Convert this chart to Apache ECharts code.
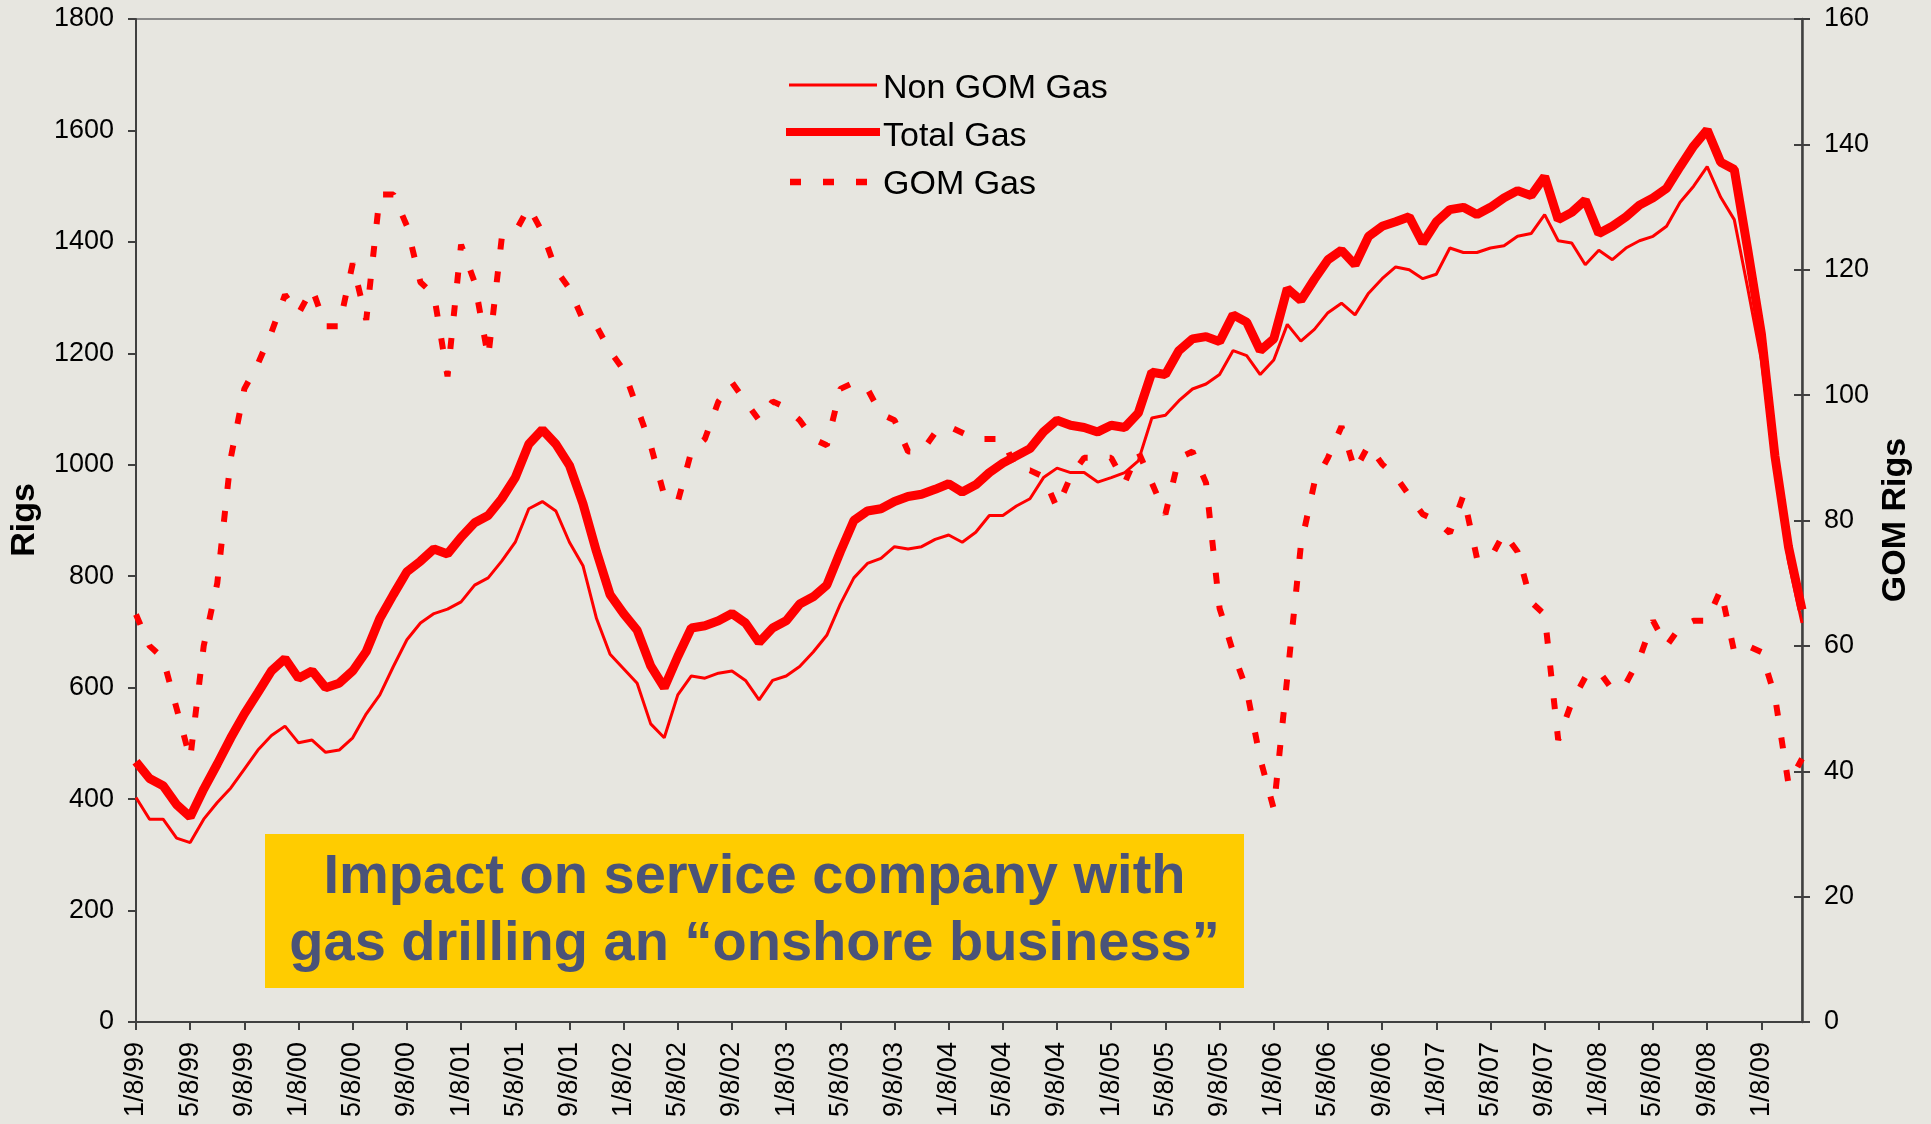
<!DOCTYPE html>
<html>
<head>
<meta charset="utf-8">
<script src="https://cdn.jsdelivr.net/npm/echarts@6/dist/echarts.min.js"></script>
<style>
  html, body { margin: 0; padding: 0; background: #E7E6E0; }
  #chart { width: 1931px; height: 1124px; }
</style>
</head>
<body>
<div id="chart"></div>
<script>
// Monthly samples, 1/8/99 .. 4/8/09
const months = [];
for (let m = 0; m < 124; m++) {
  const yy = String((99 + Math.floor(m / 12)) % 100).padStart(2, '0');
  months.push(((m % 12) + 1) + '/8/' + yy);
}

const nonGomGas = [
  403, 364, 364, 330, 322, 364, 394, 420, 454, 488, 514, 531,
  501, 506, 484, 488, 510, 553, 587, 638, 686, 716, 733, 741,
  754, 784, 797, 827, 861, 921, 934, 917, 861, 819, 724, 660,
  634, 608, 535, 510, 587, 621, 617, 626, 630, 613, 578, 613,
  621, 638, 664, 694, 750, 797, 823, 832, 853, 849, 853, 866,
  874, 861, 879, 909, 909, 926, 939, 977, 994, 986, 986, 969,
  977, 986, 1007, 1084, 1089, 1115, 1136, 1145, 1162, 1205, 1196, 1162,
  1188, 1252, 1222, 1243, 1273, 1290, 1269, 1308, 1334, 1355, 1350, 1334,
  1342, 1389, 1381, 1381, 1389, 1393, 1410, 1415, 1449, 1402, 1398, 1359,
  1385, 1368, 1389, 1402, 1410, 1428, 1471, 1500, 1535, 1480, 1440, 1316,
  1188, 999, 827, 716
];

const totalGas = [
  467, 437, 424, 390, 368, 418, 463, 510, 553, 591, 630, 652,
  617, 630, 600, 608, 630, 665, 724, 767, 808, 827, 849, 840,
  870, 896, 909, 939, 977, 1037, 1063, 1037, 999, 930, 844, 767,
  733, 703, 639, 600, 656, 707, 711, 720, 733, 716, 681, 707,
  720, 750, 763, 784, 844, 900, 917, 921, 934, 943, 947, 956,
  966, 951, 964, 986, 1003, 1016, 1029, 1059, 1080, 1071, 1067, 1059,
  1071, 1067, 1093, 1166, 1162, 1205, 1226, 1230, 1221, 1269, 1256, 1205,
  1226, 1316, 1295, 1333, 1368, 1385, 1359, 1410, 1428, 1436, 1445, 1398,
  1436, 1458, 1462, 1449, 1462, 1479, 1492, 1483, 1517, 1440, 1453, 1475,
  1415, 1428, 1445, 1466, 1479, 1496, 1535, 1572, 1601, 1543, 1530, 1385,
  1235, 1016, 853, 740
];

const gomGas = [
  65, 60, 58, 50, 42, 60, 70, 90, 101, 105, 110, 116,
  113, 117, 111, 111, 121, 112, 132, 132, 127, 118, 116, 103,
  124, 118, 106, 125, 126, 130, 126, 120, 117, 112, 111, 107,
  104, 98, 92, 84, 83, 91, 93, 99, 102, 99, 96, 99,
  98, 96, 93, 92, 101, 102, 101, 97, 96, 91, 91, 94,
  95, 94, 93, 93, 93, 88, 88, 87, 82, 87, 90, 90,
  90, 86, 91, 86, 81, 90, 91, 86, 66, 59, 53, 42,
  34, 55, 76, 86, 90, 95, 88, 92, 89, 87, 84, 81,
  80, 78, 84, 74, 74, 78, 75, 67, 65, 45, 51, 55,
  56, 53, 54, 58, 64, 60, 63, 64, 64, 69, 59, 60,
  59, 52, 38, 42
];

const leftTicks = [0, 200, 400, 600, 800, 1000, 1200, 1400, 1600, 1800];
const rightTicks = [0, 20, 40, 60, 80, 100, 120, 140, 160];
const seriesNames = ['Non GOM Gas', 'Total Gas', 'GOM Gas'];
const calloutLines = ['Impact on service company with', 'gas drilling an \u201Conshore business\u201D'];

const FONT = '"Liberation Sans", Arial, sans-serif';
const AXIS_COLOR = '#404040';
const RED = '#FF0000';

const chart = echarts.init(document.getElementById('chart'), null, { renderer: 'canvas' });

const rightMin = rightTicks[0], rightMax = rightTicks[rightTicks.length - 1], rightStep = rightTicks[1] - rightTicks[0];

const option = {
  animation: false,
  backgroundColor: '#E7E6E0',
  grid: {
    left: 136, right: 129, top: 19, bottom: 102,
    show: true, borderColor: '#8A8A8A', borderWidth: 2, backgroundColor: 'transparent'
  },
  legend: {
    orient: 'vertical',
    left: 779,
    top: 67,
    itemWidth: 94,
    itemHeight: 34,
    itemGap: 14,
    icon: 'rect',
    itemStyle: { color: 'rgba(0,0,0,0)', opacity: 0, borderWidth: 0 },
    lineStyle: { opacity: 0 },
    data: seriesNames,
    textStyle: { fontSize: 34, fontFamily: FONT, color: '#000' },
    selectedMode: false
  },
  xAxis: {
    type: 'category',
    data: months,
    boundaryGap: false,
    axisLine: { show: true, lineStyle: { color: AXIS_COLOR, width: 2 } },
    axisTick: { show: true, interval: 3, length: 8, lineStyle: { color: AXIS_COLOR, width: 2 } },
    axisLabel: {
      interval: 3, rotate: 90, margin: 20,
      fontSize: 27, fontFamily: FONT, color: '#000'
    },
    splitLine: { show: false }
  },
  yAxis: [
    {
      type: 'value',
      min: leftTicks[0], max: leftTicks[leftTicks.length - 1], interval: leftTicks[1] - leftTicks[0],
      axisLine: { show: true, lineStyle: { color: AXIS_COLOR, width: 2 } },
      axisTick: { show: true, length: 8, lineStyle: { color: AXIS_COLOR, width: 2 } },
      axisLabel: { margin: 22, fontSize: 27, fontFamily: FONT, color: '#000', formatter: v => String(v) },
      splitLine: { show: false }
    },
    {
      type: 'value',
      position: 'right',
      min: rightMin, max: rightMax, interval: rightStep,
      axisLine: { show: true, lineStyle: { color: AXIS_COLOR, width: 2.5 } },
      axisTick: { show: true, length: 8, lineStyle: { color: AXIS_COLOR, width: 2 } },
      axisLabel: { margin: 22, fontSize: 27, fontFamily: FONT, color: '#000', formatter: v => String(v) },
      splitLine: { show: false }
    },
    {
      // inner half of the crossing ticks on the right axis
      type: 'value',
      position: 'right',
      min: rightMin, max: rightMax, interval: rightStep,
      axisLine: { show: false },
      axisTick: { show: true, inside: true, length: 8, lineStyle: { color: AXIS_COLOR, width: 2 } },
      axisLabel: { show: false },
      splitLine: { show: false }
    }
  ],
  series: [
    {
      name: seriesNames[0], type: 'line', data: nonGomGas, yAxisIndex: 0,
      symbol: 'none', z: 4,
      lineStyle: { color: RED, width: 3 },
      itemStyle: { color: RED }
    },
    {
      name: seriesNames[1], type: 'line', data: totalGas, yAxisIndex: 0,
      symbol: 'none', z: 5,
      lineStyle: { color: RED, width: 9 },
      itemStyle: { color: RED }
    },
    {
      name: seriesNames[2], type: 'line', data: gomGas, yAxisIndex: 1,
      symbol: 'none', z: 3,
      lineStyle: { color: RED, width: 6, type: [11, 22], cap: 'butt' },
      itemStyle: { color: RED }
    }
  ],
  graphic: [
    // legend keys
    { type: 'line', z: 12, shape: { x1: 789, y1: 85, x2: 877, y2: 85 },
      style: { stroke: RED, lineWidth: 3 } },
    { type: 'line', z: 12, shape: { x1: 786, y1: 132, x2: 880, y2: 132 },
      style: { stroke: RED, lineWidth: 8 } },
    { type: 'line', z: 12, shape: { x1: 790, y1: 182, x2: 868, y2: 182 },
      style: { stroke: RED, lineWidth: 6.5, lineDash: [11, 22], lineCap: 'butt' } },
    // callout box
    {
      type: 'rect', left: 265, top: 834, z: 10,
      shape: { width: 979, height: 154 },
      style: { fill: '#FFCC00' }
    },
    {
      type: 'text', x: 754.5, y: 878, z: 11,
      style: {
        text: calloutLines[0], align: 'center', verticalAlign: 'middle',
        font: 'bold 56px ' + FONT, fill: '#4A5378'
      }
    },
    {
      type: 'text', x: 754.5, y: 945, z: 11,
      style: {
        text: calloutLines[1], align: 'center', verticalAlign: 'middle',
        font: 'bold 56px ' + FONT, fill: '#4A5378'
      }
    },
    // axis titles
    {
      type: 'text', x: 25, y: 520, rotation: Math.PI / 2, z: 11,
      style: {
        text: 'Rigs', align: 'center', verticalAlign: 'middle',
        font: 'bold 34px ' + FONT, fill: '#000'
      }
    },
    {
      type: 'text', x: 1896, y: 520, rotation: Math.PI / 2, z: 11,
      style: {
        text: 'GOM Rigs', align: 'center', verticalAlign: 'middle',
        font: 'bold 34px ' + FONT, fill: '#000'
      }
    }
  ]
};

chart.setOption(option);
</script>
</body>
</html>
